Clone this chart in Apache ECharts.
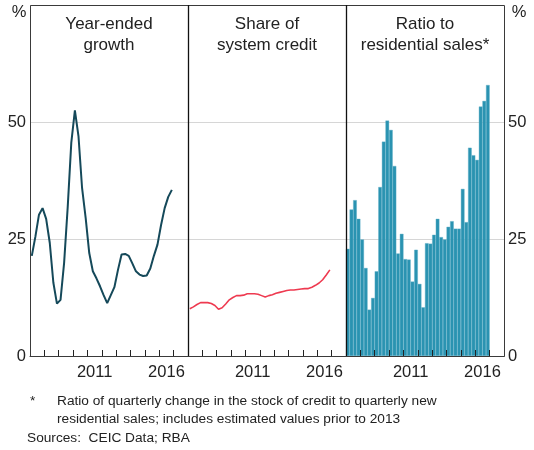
<!DOCTYPE html>
<html>
<head>
<meta charset="utf-8">
<script src="https://cdn.jsdelivr.net/npm/echarts@6/dist/echarts.min.js"></script>
<style>
  html, body { margin: 0; padding: 0; background: #fff; }
  #chart { width: 534px; height: 450px; }
</style>
</head>
<body>
<div id="chart"></div>
<script>
// quarterly data, Mar 2007 - Dec 2016
var labelYears = [2011, 2016]
var yTicks = [0, 25, 50]

var growth = [21.4, 25.5, 30.2, 31.6, 29.3, 24.2, 15.7, 11.2, 12.0, 19.9,
  31.8, 45.6, 52.5, 47.0, 35.9, 29.5, 22.0, 18.1, 16.6, 14.9,
  13.0, 11.3, 13.0, 14.7, 18.4, 21.7, 21.8, 21.4, 19.8, 18.1,
  17.4, 17.1, 17.2, 18.7, 21.4, 23.8, 28.0, 31.6, 34.0, 35.5]

var share = [10.1, 10.5, 11.0, 11.4, 11.4, 11.4, 11.2, 10.8, 10.0, 10.3,
  11.1, 12.0, 12.5, 12.9, 12.9, 13.0, 13.3, 13.3, 13.3, 13.2,
  12.9, 12.6, 12.9, 13.1, 13.4, 13.6, 13.8, 14.0, 14.1, 14.1,
  14.2, 14.3, 14.4, 14.4, 14.7, 15.1, 15.6, 16.3, 17.3, 18.4]

var ratio = [22.9, 31.3, 33.3, 29.3, 24.9, 18.8, 9.9, 12.4, 18.1, 36.1,
  45.8, 50.3, 48.3, 40.6, 21.9, 26.1, 20.7, 20.6, 15.9, 22.7,
  15.4, 10.4, 24.1, 24.0, 25.9, 29.3, 25.4, 24.9, 27.6, 28.8,
  27.2, 27.2, 35.7, 28.6, 44.5, 42.9, 41.9, 53.3, 54.5, 57.9]

var panelTitles = ['Year-ended\ngrowth', 'Share of\nsystem credit', 'Ratio to\nresidential sales*']

// quarter mid points as decimal years
var quarters = []
for (var y = 2007; y < 2017; y++) {
  for (var q = 0; q < 4; q++) quarters.push(y + q * 0.25 + 0.125)
}
function pairs(vals) {
  return vals.map(function (v, i) { return [quarters[i], v] })
}

var FONT = '"Liberation Sans", Arial, sans-serif'
var TXT = '#222'
var LEFT = 30, TOP = 5, PW = 158, PH = 351
var X_MIN = 2007, X_MAX = 2018
var FRAME = '#3a3a3a'

var chart = echarts.init(document.getElementById('chart'), null, { renderer: 'canvas' })

var grids = [], xAxes = [], yAxes = [], graphics = []
for (var i = 0; i < 3; i++) {
  grids.push({ left: LEFT + i * PW, top: TOP, width: PW, height: PH })
  // year ticks on the baseline
  xAxes.push({
    type: 'value', gridIndex: i, min: X_MIN, max: X_MAX, interval: 1, z: 5,
    splitLine: { show: false },
    axisLine: { show: true, lineStyle: { color: FRAME } },
    axisTick: { show: true, inside: true, length: 6, lineStyle: { color: '#222', width: 1 } },
    axisLabel: { show: false }
  })
  yAxes.push({
    type: 'value', gridIndex: i, min: 0, max: 75, interval: 25,
    axisLine: { show: false }, axisTick: { show: false },
    splitLine: { lineStyle: { color: '#d6d6d6', width: 1 } },
    axisLabel: {
      show: i === 0, customValues: yTicks,
      fontSize: 16.5, fontFamily: FONT, color: TXT, margin: 4
    }
  })
  graphics.push({
    type: 'text', z: 100,
    style: {
      text: panelTitles[i], x: LEFT + i * PW + PW / 2, y: 14,
      align: 'center', verticalAlign: 'top',
      fontSize: 17, fontFamily: FONT, lineHeight: 21, fill: TXT
    }
  })
  // year labels sit in the middle of their year
  labelYears.forEach(function (yr) {
    graphics.push({
      type: 'text', z: 100,
      style: {
        text: String(yr),
        x: LEFT + i * PW + (yr + 0.5 - X_MIN) / (X_MAX - X_MIN) * PW, y: 372,
        align: 'center', verticalAlign: 'middle',
        fontSize: 16.5, fontFamily: FONT, fill: TXT
      }
    })
  })
}
// right hand labels
yAxes.push({
  type: 'value', gridIndex: 2, position: 'right', min: 0, max: 75, interval: 25,
  axisLine: { show: false }, axisTick: { show: false }, splitLine: { show: false },
  axisLabel: { customValues: yTicks, fontSize: 16.5, fontFamily: FONT, color: TXT, margin: 4 }
})

// frame + panel dividers
graphics.push({
  type: 'rect', z: 90, silent: true,
  shape: { x: LEFT + 0.5, y: TOP + 0.5, width: PW * 3, height: PH },
  style: { fill: null, stroke: FRAME, lineWidth: 1 }
})
for (var k = 1; k < 3; k++) {
  graphics.push({
    type: 'line', z: 90, silent: true,
    shape: { x1: LEFT + k * PW + 0.5, y1: TOP, x2: LEFT + k * PW + 0.5, y2: TOP + PH },
    style: { stroke: '#111', lineWidth: 1.3 }
  })
}
// unit labels
graphics.push({ type: 'text', z: 100, style: { text: '%', x: 19, y: 12, align: 'center', verticalAlign: 'middle', fontSize: 16.5, fontFamily: FONT, fill: TXT } })
graphics.push({ type: 'text', z: 100, style: { text: '%', x: 519, y: 12, align: 'center', verticalAlign: 'middle', fontSize: 16.5, fontFamily: FONT, fill: TXT } })
// notes
graphics.push({ type: 'text', z: 100, style: { text: '*', x: 30, y: 401, verticalAlign: 'middle', fontSize: 13.7, fontFamily: FONT, fill: TXT } })
graphics.push({
  type: 'text', z: 100,
  style: {
    text: 'Ratio of quarterly change in the stock of credit to quarterly new\nresidential sales; includes estimated values prior to 2013',
    x: 57, y: 392, verticalAlign: 'top', fontSize: 13.7, lineHeight: 18, fontFamily: FONT, fill: TXT
  }
})
graphics.push({ type: 'text', z: 100, style: { text: 'Sources:  CEIC Data; RBA', x: 27, y: 438, verticalAlign: 'middle', fontSize: 13.7, fontFamily: FONT, fill: TXT } })

chart.setOption({
  animation: false,
  backgroundColor: '#fff',
  grid: grids,
  xAxis: xAxes,
  yAxis: yAxes,
  graphic: graphics,
  series: [
    {
      name: 'Year-ended growth', type: 'line', xAxisIndex: 0, yAxisIndex: 0,
      data: pairs(growth), symbol: 'none',
      lineStyle: { color: '#15495a', width: 2 }
    },
    {
      name: 'Share of system credit', type: 'line', xAxisIndex: 1, yAxisIndex: 1,
      data: pairs(share), symbol: 'none',
      lineStyle: { color: '#ee3a50', width: 1.6 }
    },
    {
      name: 'Ratio to residential sales', type: 'bar', xAxisIndex: 2, yAxisIndex: 2,
      data: pairs(ratio), barWidth: PW / 44, z: 2,
      itemStyle: { color: '#2a93b1', borderColor: '#5eafc8', borderWidth: 0.4 }
    }
  ]
})
</script>
</body>
</html>
